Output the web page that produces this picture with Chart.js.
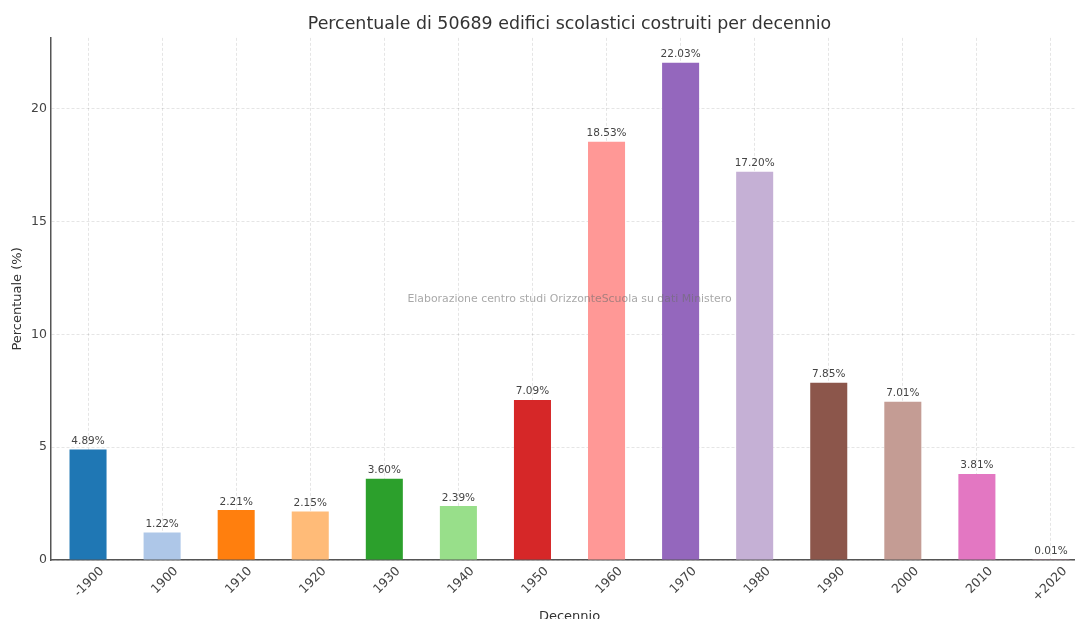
<!DOCTYPE html>
<html>
<head>
<meta charset="utf-8">
<script src="https://cdn.jsdelivr.net/npm/chart.js@4.4.1/dist/chart.umd.min.js"></script>
<style>
  html, body { margin: 0; padding: 0; background: #fff; overflow: hidden; }
  #wrap { width: 1088px; height: 619px; position: relative; }
</style>
</head>
<body>
<div id="wrap"><canvas id="c"></canvas></div>
<script>
const categories = ['-1900', '1900', '1910', '1920', '1930', '1940', '1950', '1960', '1970', '1980', '1990', '2000', '2010', '+2020'];
const percentages = [4.89, 1.22, 2.21, 2.15, 3.60, 2.39, 7.09, 18.53, 22.03, 17.20, 7.85, 7.01, 3.81, 0.01];
const barColors = ['#1f77b4', '#aec7e8', '#ff7f0e', '#ffbb78', '#2ca02c', '#98df8a', '#d62728', '#ff9896', '#9467bd', '#c5b0d5', '#8c564b', '#c49c94', '#e377c2', '#f7b6d2'];
const yTicks = [0, 5, 10, 15, 20];
const titleText = 'Percentuale di 50689 edifici scolastici costruiti per decennio';
const watermarkText = 'Elaborazione centro studi OrizzonteScuola su dati Ministero';

const FONT = "'DejaVu Sans', sans-serif";

const valueLabels = {
  id: 'valueLabels',
  afterDraw(chart) {
    const ctx = chart.ctx;
    const area = chart.chartArea;
    ctx.save();
    // watermark
    ctx.font = '10.9px ' + FONT;
    ctx.fillStyle = 'rgba(110,110,110,0.6)';
    ctx.textAlign = 'center';
    ctx.textBaseline = 'middle';
    ctx.fillText(watermarkText, (area.left + area.right) / 2, (area.top + area.bottom) / 2);
    // value labels
    const meta = chart.getDatasetMeta(0);
    ctx.font = '10.5px ' + FONT;
    ctx.fillStyle = '#444';
    ctx.textBaseline = 'bottom';
    meta.data.forEach((bar, i) => {
      ctx.fillText(percentages[i].toFixed(2) + '%', bar.x, bar.y - 3);
    });
    ctx.restore();
  }
};

new Chart(document.getElementById('c'), {
  type: 'bar',
  data: {
    labels: categories,
    datasets: [{
      data: percentages,
      backgroundColor: barColors,
      borderWidth: 0,
      categoryPercentage: 1.0,
      barPercentage: 0.5
    }]
  },
  options: {
    responsive: true,
    maintainAspectRatio: false,
    animation: false,
    layout: { padding: 0 },
    plugins: {
      legend: { display: false },
      tooltip: { enabled: false },
      title: {
        display: true,
        text: titleText,
        fullSize: false,
        color: '#333',
        font: { family: FONT, size: 17.4, weight: 'normal' },
        padding: { top: 14, bottom: 3 }
      }
    },
    scales: {
      x: {
        z: 1,
        offset: true,
        afterFit(scale) { scale.height = 59; },
        grid: { display: true, offset: false, drawTicks: false, color: 'rgba(0,0,0,0.13)', lineWidth: 0.8 },
        border: { display: true, color: '#555', width: 1.5, dash: [3, 2] },
        ticks: {
          autoSkip: false, maxRotation: 45, minRotation: 45,
          labelOffset: 14, padding: 4,
          color: '#444', font: { family: FONT, size: 12.5 }
        },
        title: {
          display: true, text: 'Decennio', color: '#333',
          font: { family: FONT, size: 13 },
          padding: { top: 0, bottom: -5 }
        }
      },
      y: {
        z: 1,
        min: 0,
        max: 23.13,
        afterFit(scale) { scale.width = 51; },
        afterBuildTicks(scale) { scale.ticks = yTicks.map(v => ({ value: v })); },
        grid: { display: true, drawTicks: false, color: 'rgba(0,0,0,0.13)', lineWidth: 0.8 },
        border: { display: true, color: '#555', width: 1.5, dash: [3, 2] },
        ticks: { padding: 4, color: '#444', font: { family: FONT, size: 12.5 } },
        title: {
          display: true, text: 'Percentuale (%)', color: '#333',
          font: { family: FONT, size: 13 },
          padding: { top: 10, bottom: 0 }
        }
      }
    }
  },
  plugins: [valueLabels]
});
</script>
</body>
</html>
